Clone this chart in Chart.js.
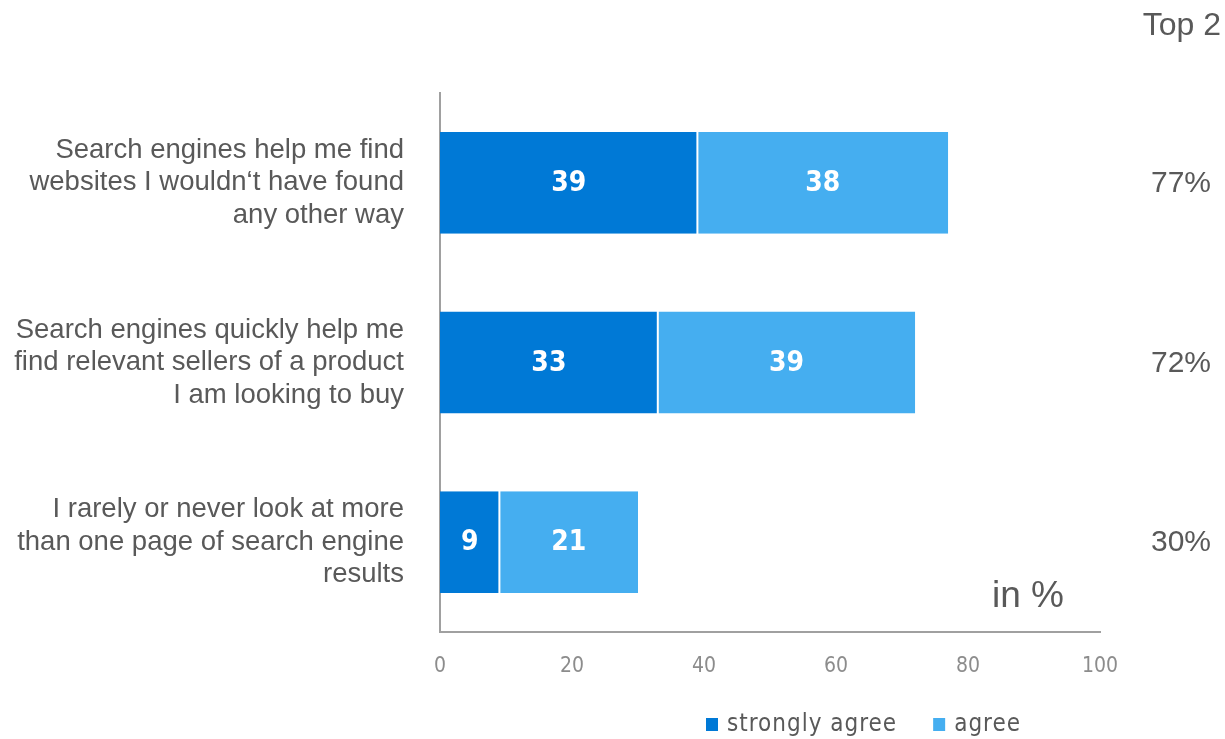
<!DOCTYPE html>
<html>
<head>
<meta charset="utf-8">
<script src="https://cdn.jsdelivr.net/npm/chart.js@4/dist/chart.umd.min.js"></script>
<style>
    html, body { margin: 0; padding: 0; background: #fff; }
    #wrap { width: 1225px; height: 739px; position: relative; }
</style>
</head>
<body>
<div id="wrap"><canvas id="agree-chart"></canvas></div>
<script>
    "use strict";

    // Statements and answers (in %)
    var statements = [
        ["Search engines help me find", "websites I wouldn\u2018t have found", "any other way"],
        ["Search engines quickly help me", "find relevant sellers of a product", "I am looking to buy"],
        ["I rarely or never look at more", "than one page of search engine", "results"]
    ];
    var stronglyAgree = [39, 33, 9];
    var agree = [38, 39, 21];
    var top2 = [77, 72, 30];
    var xTicks = [0, 20, 40, 60, 80, 100];

    var darkBlue = "#0079d6";
    var lightBlue = "#45aef0";
    var grey = "#595959";
    var sans = "'Liberation Sans', Arial, sans-serif";
    var narrow = "'Liberation Sans Narrow', 'DejaVu Sans Condensed', " + sans;

    // Values in the middle of each bar, top-2 totals on the right, extra texts
    var labelsPlugin = {
        id: "labels",
        afterDatasetsDraw: function (chart) {
            var ctx = chart.ctx;
            ctx.save();
            ctx.fillStyle = "#fff";
            ctx.font = "bold 28px " + narrow;
            ctx.textAlign = "center";
            ctx.textBaseline = "middle";
            chart.data.datasets.forEach(function (ds, i) {
                chart.getDatasetMeta(i).data.forEach(function (bar, j) {
                    var c = bar.getCenterPoint();
                    ctx.fillText(ds.data[j], c.x, c.y + 1);
                });
            });

            ctx.fillStyle = grey;
            ctx.font = "30px " + sans;
            var yScale = chart.scales.y;
            top2.forEach(function (v, j) {
                ctx.fillText(v + "%", 1181, yScale.getPixelForValue(j) + 1);
            });

            ctx.textAlign = "right";
            ctx.font = "32px " + sans;
            ctx.fillText("Top 2", 1221, 26);

            ctx.textAlign = "left";
            ctx.font = "37px " + sans;
            ctx.fillText("in %", 992, 597);

            // legend
            ctx.font = "24px " + narrow;
            var lx = 706, ly = 724;
            chart.data.datasets.forEach(function (ds) {
                ctx.fillStyle = ds.backgroundColor;
                ctx.fillRect(lx, ly - 6, 12, 13);
                ctx.fillStyle = grey;
                if (ctx.letterSpacing !== undefined) ctx.letterSpacing = "1px";
                ctx.fillText(ds.label, lx + 21, ly + 1);
                lx += 21 + ctx.measureText(ds.label).width + 36;
            });
            ctx.restore();
        }
    };

    var ctx1 = document.getElementById("agree-chart").getContext("2d");
    var myChart = new Chart(ctx1, {
        type: "bar",
        data: {
            labels: statements,
            datasets: [{
                label: "strongly agree",
                data: stronglyAgree,
                backgroundColor: darkBlue,
                borderColor: "#fff",
                borderWidth: { right: 1, left: 0, top: 0, bottom: 0 },
                borderSkipped: false,
                categoryPercentage: 0.567,
                barPercentage: 1
            },
            {
                label: "agree",
                data: agree,
                backgroundColor: lightBlue,
                borderColor: "#fff",
                borderWidth: { left: 1, right: 0, top: 0, bottom: 0 },
                borderSkipped: false,
                categoryPercentage: 0.567,
                barPercentage: 1
            }
            ]
        },
        options: {
            indexAxis: "y",
            responsive: true,
            maintainAspectRatio: false,
            animation: false,
            layout: { padding: { top: 93, right: 125, left: 0, bottom: 0 } },
            plugins: {
                legend: { display: false },
                tooltip: { enabled: false }
            },
            scales: {
                x: {
                    stacked: true,
                    min: 0,
                    max: 100,
                    afterBuildTicks: function (scale) {
                        scale.ticks = xTicks.map(function (v) { return { value: v }; });
                    },
                    afterFit: function (scale) { scale.height = 107; },
                    grid: { display: false, drawTicks: false },
                    border: { display: true, color: "#a0a0a0", width: 2 },
                    ticks: {
                        color: "#8c8c8c",
                        padding: 22,
                        font: { family: narrow, size: 21 }
                    }
                },
                y: {
                    stacked: true,
                    afterFit: function (scale) { scale.width = 440; },
                    grid: { display: false, drawTicks: false },
                    border: { display: true, color: "#a0a0a0", width: 2 },
                    ticks: {
                        color: grey,
                        padding: 36,
                        font: { family: sans, size: 27.5, lineHeight: 1.18 }
                    }
                }
            }
        },
        plugins: [labelsPlugin]
    });
</script>
</body>
</html>
